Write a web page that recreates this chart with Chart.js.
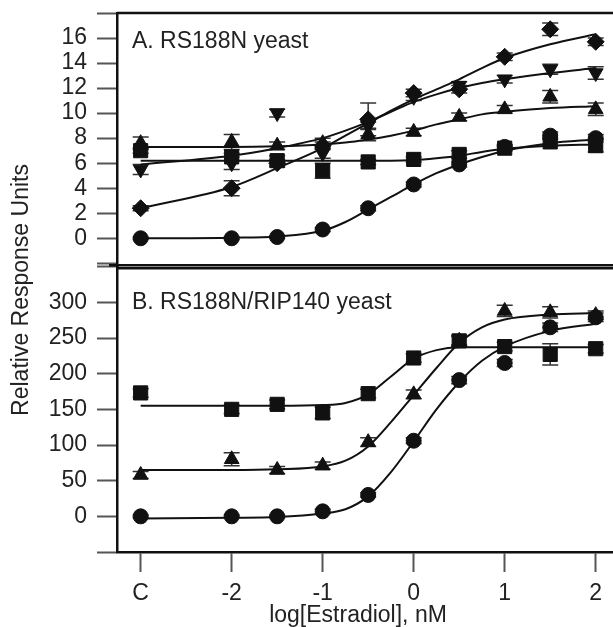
<!DOCTYPE html>
<html>
<head>
<meta charset="utf-8">
<script src="https://cdn.jsdelivr.net/npm/chart.js@4.4.0/dist/chart.umd.min.js"></script>
<style>
  html, body { margin: 0; padding: 0; background: #fff; overflow: hidden; }
  #wrap { width: 613px; height: 627px; position: relative; }
</style>
</head>
<body>
<div id="wrap"><canvas id="chart"></canvas></div>
<script>
// x positions: C (control) is drawn one unit left of -2
var doses = [-3, -2, -1.5, -1, -0.5, 0, 0.5, 1, 1.5, 2];
var fitX  = [-3, -2, -1.5, -1, -0.75, -0.5, -0.25, 0, 0.25, 0.5, 0.75, 1, 1.5, 2];
var xTickValues = [-3, -2, -1, 0, 1, 2];
var xTickLabels = ["C", "-2", "-1", "0", "1", "2"];

// panel A: RS188N yeast
var aTickMarks  = [-2, 0, 2, 4, 6, 8, 10, 12, 14, 16, 18];
var aTickLabels = [0, 2, 4, 6, 8, 10, 12, 14, 16];
var aCircle  = [0, 0, 0.1, 0.7, 2.4, 4.3, 5.9, 7.3, 8.2, 8.0];
var aSquare  = [7.0, 6.5, 6.2, 5.4, 6.1, 6.3, 6.7, 7.2, 7.7, 7.4];
var aDiamond = [2.4, 4.0, 6.0, 7.4, 9.5, 11.6, 11.9, 14.5, 16.7, 15.7];
var aDown    = [5.5, 6.0, 10.0, 6.8, 9.0, 11.3, 12.2, 12.7, 13.5, 13.2];
var aUp      = [7.6, 7.7, 7.4, 7.6, 8.3, 8.5, 9.7, 10.3, 11.3, 10.3];
var aCircleErr  = [0.1, 0.1, 0.1, 0.15, 0.2, 0.2, 0.2, 0.2, 0.3, 0.3];
var aSquareErr  = [0.2, 0.3, 0.4, 0.6, 0.2, 0.2, 0.3, 0.2, 0.3, 0.5];
var aDiamondErr = [0.2, 0.6, 0.3, 0.3, 1.3, 0.3, 0.3, 0.3, 0.5, 0.3];
var aDownErr    = [0.4, 0.5, 0.3, 0.4, 0.3, 0.3, 0.3, 0.3, 0.4, 0.5];
var aUpErr      = [0.5, 0.6, 0.3, 0.4, 0.5, 0.3, 0.3, 0.3, 0.5, 0.5];
var aCircleFit  = [0, 0.05, 0.15, 0.6, 1.3, 2.3, 3.3, 4.3, 5.2, 5.9, 6.5, 7.0, 7.6, 7.9];
var aSquareFit  = [6.2, 6.2, 6.2, 6.2, 6.2, 6.2, 6.2, 6.25, 6.4, 6.6, 6.9, 7.15, 7.4, 7.5];
var aDiamondFit = [2.4, 4.1, 5.6, 7.2, 8.2, 9.2, 10.2, 11.1, 11.9, 12.7, 13.6, 14.4, 15.5, 16.3];
var aDownFit    = [5.9, 6.6, 7.2, 8.0, 8.6, 9.3, 10.1, 10.9, 11.5, 12.0, 12.4, 12.7, 13.2, 13.6];
var aUpFit      = [7.3, 7.3, 7.35, 7.5, 7.65, 7.9, 8.2, 8.6, 9.1, 9.5, 9.9, 10.1, 10.4, 10.55];

// panel B: RS188N/RIP140 yeast
var bTickMarks  = [-50, 0, 50, 100, 150, 200, 250, 300, 350];
var bTickLabels = [0, 50, 100, 150, 200, 250, 300];
var bCircle = [0, 0, 0, 7, 30, 106, 191, 215, 265, 279];
var bUp     = [58, 80, 65, 71, 104, 171, 246, 288, 286, 282];
var bSquare = [173, 150, 157, 145, 172, 222, 246, 238, 227, 235];
var bCircleErr = [2, 2, 2, 3, 3, 4, 5, 5, 6, 6];
var bUpErr     = [5, 9, 5, 5, 6, 6, 6, 8, 8, 6];
var bSquareErr = [6, 6, 6, 8, 6, 6, 8, 6, 15, 6];
var bCircleFit = [-3, -2, -1, 4, 10, 28, 62, 105, 150, 188, 218, 238, 260, 270];
var bUpFit     = [65, 65, 66, 70, 78, 98, 132, 170, 208, 243, 265, 276, 283, 285];
var bSquareFit = [155, 155, 155, 156, 159, 171, 196, 221, 233, 237, 237, 237, 237, 237];

var FONT = "'Liberation Sans', Arial, sans-serif";
var INK = "#111";

function pts(xs, ys) {
  return xs.map(function (x, i) { return { x: x, y: ys[i] }; });
}

function marks(ys, errs, axis, style, r, rot) {
  return {
    data: pts(doses, ys), errors: errs, yAxisID: axis,
    showLine: false, order: 0,
    pointStyle: style, pointRadius: r, pointRotation: rot || 0,
    pointBackgroundColor: INK, pointBorderColor: INK, pointBorderWidth: 1
  };
}

function fit(ys, axis) {
  return {
    data: pts(fitX, ys), yAxisID: axis,
    showLine: true, order: 1, pointRadius: 0,
    borderColor: INK, borderWidth: 2,
    cubicInterpolationMode: "monotone"
  };
}

// error bars, drawn under the markers
var errorBars = {
  id: "errorBars",
  beforeDatasetsDraw: function (chart) {
    var ctx = chart.ctx;
    ctx.save();
    ctx.strokeStyle = "#333";
    ctx.lineWidth = 1.5;
    chart.data.datasets.forEach(function (ds) {
      if (!ds.errors) return;
      var xs = chart.scales.x, ys = chart.scales[ds.yAxisID];
      ds.data.forEach(function (p, i) {
        var px = xs.getPixelForValue(p.x);
        var y1 = ys.getPixelForValue(p.y - ds.errors[i]);
        var y2 = ys.getPixelForValue(p.y + ds.errors[i]);
        ctx.beginPath();
        ctx.moveTo(px, y1); ctx.lineTo(px, y2);
        ctx.moveTo(px - 8, y1); ctx.lineTo(px + 8, y1);
        ctx.moveTo(px - 8, y2); ctx.lineTo(px + 8, y2);
        ctx.stroke();
      });
    });
    ctx.restore();
  }
};

// panel frames and texts
var frame = {
  id: "frame",
  afterDraw: function (chart) {
    var ctx = chart.ctx, a = chart.chartArea;
    var yA = chart.scales.yA, yB = chart.scales.yB;
    ctx.save();
    ctx.strokeStyle = INK;
    ctx.lineWidth = 2.5;
    ctx.beginPath();
    ctx.moveTo(a.left, yA.top); ctx.lineTo(a.right, yA.top);
    ctx.moveTo(a.left - 8, yA.bottom - 1.5); ctx.lineTo(a.right, yA.bottom - 1.5);
    ctx.moveTo(a.left, yB.top + 1.5); ctx.lineTo(a.right, yB.top + 1.5);
    ctx.stroke();

    ctx.fillStyle = "#222";
    ctx.textBaseline = "middle";
    ctx.textAlign = "left";
    ctx.font = "23px " + FONT;
    ctx.fillText("A. RS188N yeast", a.left + 15, yA.top + 29);
    ctx.fillText("B. RS188N/RIP140 yeast", a.left + 15, yB.top + 36);

    ctx.textAlign = "center";
    ctx.fillText("log[Estradiol], nM", 358, 616);

    ctx.translate(22, 290);
    ctx.rotate(-Math.PI / 2);
    ctx.fillText("Relative Response Units", 0, 0);
    ctx.restore();
  }
};

function yScale(min, max, weight, tickMarks, tickLabels) {
  return {
    type: "linear", position: "left", stack: "panels", stackWeight: weight,
    min: min, max: max,
    afterBuildTicks: function (s) {
      s.ticks = tickMarks.map(function (v) { return { value: v }; });
    },
    afterFit: function (s) {
      s.width = 117;
      s.paddingTop = 0; s.paddingBottom = 0;
    },
    ticks: {
      autoSkip: false, padding: 10, color: "#222", font: { family: FONT, size: 23 },
      callback: function (v) { return tickLabels.indexOf(v) >= 0 ? String(v) : ""; }
    },
    grid: { drawOnChartArea: false, drawTicks: true, tickLength: 20, tickColor: "#555", tickWidth: 2 },
    border: { display: true, color: INK, width: 2.5 }
  };
}

var ctx = document.getElementById("chart").getContext("2d");
var myChart = new Chart(ctx, {
  type: "scatter",
  data: {
    datasets: [
      marks(aCircle, aCircleErr, "yA", "circle", 7.5),
      marks(aSquare, aSquareErr, "yA", "rect", 10),
      marks(aDiamond, aDiamondErr, "yA", "rectRot", 8.5),
      marks(aDown, aDownErr, "yA", "triangle", 8.5, 180),
      marks(aUp, aUpErr, "yA", "triangle", 8.5),
      fit(aCircleFit, "yA"),
      fit(aSquareFit, "yA"),
      fit(aDiamondFit, "yA"),
      fit(aDownFit, "yA"),
      fit(aUpFit, "yA"),
      marks(bCircle, bCircleErr, "yB", "circle", 7.5),
      marks(bUp, bUpErr, "yB", "triangle", 8.5),
      marks(bSquare, bSquareErr, "yB", "rect", 10),
      fit(bCircleFit, "yB"),
      fit(bUpFit, "yB"),
      fit(bSquareFit, "yB")
    ]
  },
  options: {
    responsive: true,
    maintainAspectRatio: false,
    animation: false,
    layout: { autoPadding: false, padding: { top: 13, left: 0, right: 0, bottom: 0 } },
    plugins: { legend: { display: false }, tooltip: { enabled: false } },
    scales: {
      x: {
        type: "linear", min: -3.26, max: 2.19,
        afterBuildTicks: function (s) {
          s.ticks = xTickValues.map(function (v) { return { value: v }; });
        },
        afterFit: function (s) {
          s.height = 75;
          s.paddingLeft = 0; s.paddingRight = 0;
        },
        ticks: {
          autoSkip: false, maxRotation: 0, padding: 8, color: "#222",
          font: { family: FONT, size: 23 },
          callback: function (v) { return xTickLabels[xTickValues.indexOf(v)]; }
        },
        grid: { drawOnChartArea: false, drawTicks: true, tickLength: 20, tickColor: "#555", tickWidth: 2 },
        border: { display: true, color: INK, width: 2.5 }
      },
      yB: yScale(-50, 350, 285, bTickMarks, bTickLabels),
      yA: yScale(-2.27, 18, 253.4, aTickMarks, aTickLabels)
    }
  },
  plugins: [errorBars, frame]
});
</script>
</body>
</html>
